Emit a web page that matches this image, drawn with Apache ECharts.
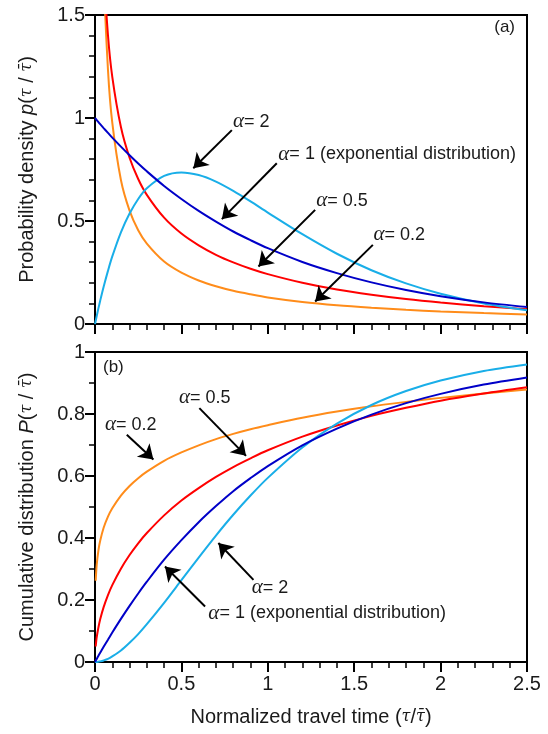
<!DOCTYPE html>
<html>
<head>
<meta charset="utf-8">
<script src="https://cdn.jsdelivr.net/npm/echarts@6/dist/echarts.min.js"></script>
<style>
  html, body { margin: 0; padding: 0; background: #fff; }
  #chart { width: 548px; height: 734px; }
</style>
</head>
<body>
<div id="chart"></div>
<script>
// normalized travel time samples
var xPdf = [0, 0.01, 0.02, 0.03, 0.05, 0.075, 0.1, 0.15, 0.2, 0.25, 0.3, 0.4, 0.5, 0.6, 0.7, 0.8, 0.9, 1.0, 1.2, 1.4, 1.6, 1.8, 2.0, 2.25, 2.5];
var xCdf = [0, 0.004, 0.01, 0.02, 0.03, 0.05, 0.075, 0.1, 0.15, 0.2, 0.25, 0.3, 0.4, 0.5, 0.6, 0.7, 0.8, 0.9, 1.0, 1.2, 1.4, 1.6, 1.8, 2.0, 2.25, 2.5];

// (a) probability density
var pdf02 = [null, 6.273, 3.596, 2.594, 1.717, 1.235, 0.977, 0.699, 0.550, 0.455, 0.390, 0.303, 0.249, 0.211, 0.183, 0.161, 0.144, 0.129, 0.107, 0.091, 0.079, 0.069, 0.061, 0.053, 0.046];
var pdf05 = [null, 3.970, 2.793, 2.269, 1.740, 1.403, 1.200, 0.956, 0.807, 0.704, 0.627, 0.516, 0.439, 0.382, 0.336, 0.299, 0.268, 0.242, 0.200, 0.167, 0.142, 0.121, 0.104, 0.086, 0.072];
var pdf1 = [1, 0.990, 0.980, 0.970, 0.951, 0.928, 0.905, 0.861, 0.819, 0.779, 0.741, 0.670, 0.607, 0.549, 0.497, 0.449, 0.407, 0.368, 0.301, 0.247, 0.202, 0.165, 0.135, 0.105, 0.082];
var pdf2 = [0, 0.039, 0.077, 0.113, 0.181, 0.258, 0.328, 0.445, 0.536, 0.607, 0.659, 0.719, 0.736, 0.723, 0.691, 0.646, 0.595, 0.541, 0.436, 0.341, 0.261, 0.197, 0.147, 0.100, 0.067];

// (b) cumulative distribution
var cdf02 = [null, 0.262, 0.314, 0.361, 0.391, 0.433, 0.469, 0.496, 0.537, 0.568, 0.593, 0.614, 0.649, 0.676, 0.699, 0.719, 0.736, 0.751, 0.764, 0.788, 0.808, 0.825, 0.839, 0.852, 0.866, 0.879];
var cdf05 = [null, 0.050, 0.080, 0.112, 0.138, 0.177, 0.216, 0.248, 0.301, 0.345, 0.383, 0.416, 0.473, 0.521, 0.561, 0.597, 0.629, 0.657, 0.683, 0.727, 0.763, 0.794, 0.820, 0.843, 0.866, 0.886];
var cdf1 = [0, 0.004, 0.010, 0.020, 0.030, 0.049, 0.072, 0.095, 0.139, 0.181, 0.221, 0.259, 0.330, 0.393, 0.451, 0.503, 0.551, 0.593, 0.632, 0.699, 0.753, 0.798, 0.835, 0.865, 0.895, 0.918];
var cdf2 = [0, 0.000, 0.000, 0.001, 0.002, 0.005, 0.010, 0.018, 0.037, 0.062, 0.090, 0.122, 0.191, 0.264, 0.337, 0.408, 0.475, 0.537, 0.594, 0.692, 0.769, 0.829, 0.874, 0.908, 0.939, 0.960];

// annotations: [label x, label y, arrow start x, start y, tip x, tip y, text]
var notesA = [
  [0.799, 0.982, 0.792, 0.941, 0.569, 0.756, "{a|α}= 2"],
  [1.061, 0.825, 1.052, 0.780, 0.734, 0.509, "{a|α}= 1 (exponential distribution)"],
  [1.280, 0.599, 1.274, 0.554, 0.946, 0.279, "{a|α}= 0.5"],
  [1.612, 0.433, 1.608, 0.384, 1.274, 0.109, "{a|α}= 0.2"]
];
var notesB = [
  [0.058, 0.765, 0.184, 0.733, 0.338, 0.653, "{a|α}= 0.2"],
  [0.486, 0.852, 0.604, 0.819, 0.874, 0.665, "{a|α}= 0.5"],
  [0.907, 0.239, 0.917, 0.265, 0.714, 0.384, "{a|α}= 2"],
  [0.656, 0.158, 0.637, 0.179, 0.405, 0.308, "{a|α}= 1 (exponential distribution)"]
];

var colors = { a02: "#ff8c1a", a05: "#ff0000", a1: "#0000c8", a2: "#19aee8" };
var ink = "#1a1a1a";
var sans = "Liberation Sans";

function pairs(xs, ys) {
  return xs.map(function (x, i) { return [x, ys[i]]; });
}

var rich = {
  a: { fontFamily: "Liberation Serif", fontStyle: "italic", fontSize: 21, color: ink },
  i: { fontFamily: sans, fontStyle: "italic", fontSize: 20, color: ink },
  g: { fontFamily: "DejaVu Serif", fontStyle: "italic", fontSize: 16, color: ink }
};

function curve(name, xs, ys, color, idx) {
  return {
    name: name,
    type: "line",
    xAxisIndex: idx,
    yAxisIndex: idx,
    data: pairs(xs, ys),
    showSymbol: false,
    smooth: 0.3,
    clip: true,
    lineStyle: { color: color, width: 2 },
    z: 3
  };
}

function notes(list, idx) {
  return {
    type: "scatter",
    xAxisIndex: idx,
    yAxisIndex: idx,
    symbolSize: 0,
    silent: true,
    itemStyle: { opacity: 1 },
    data: list.map(function (n) { return { value: [n[0], n[1]], name: n[6] }; }),
    label: {
      show: true,
      position: "right",
      distance: 0,
      opacity: 1,
      formatter: function (p) { return p.name; },
      fontFamily: sans,
      fontSize: 18,
      color: ink,
      rich: rich
    },
    markLine: {
      silent: true,
      symbol: ["none", "arrow"],
      symbolSize: 14,
      label: { show: false },
      lineStyle: { color: "#000", width: 2, type: "solid", opacity: 1 },
      emphasis: { disabled: true },
      data: list.map(function (n) {
        return [{ coord: [n[2], n[3]] }, { coord: [n[4], n[5]] }];
      })
    },
    z: 5
  };
}

function xAx(idx, labels) {
  return {
    gridIndex: idx,
    type: "value",
    min: 0,
    max: 2.5,
    interval: 0.5,
    name: labels ? "Normalized travel time ({g|τ}/{g|τ̄})" : "",
    nameLocation: "middle",
    nameGap: 45,
    nameTextStyle: { fontFamily: sans, fontSize: 20, color: ink, rich: rich },
    axisLine: { lineStyle: { color: "#000", width: 2 } },
    axisTick: { length: 10, lineStyle: { color: "#000", width: 2 } },
    minorTick: { show: true, splitNumber: 5, length: 6, lineStyle: { color: "#000", width: 1.5 } },
    splitLine: { show: false },
    axisLabel: { show: labels, fontFamily: sans, fontSize: 20, color: ink, margin: 12 }
  };
}

function yAx(idx, max, step, minor, title) {
  return {
    gridIndex: idx,
    type: "value",
    min: 0,
    max: max,
    interval: step,
    name: title,
    nameLocation: "middle",
    nameGap: 58,
    nameTextStyle: { fontFamily: sans, fontSize: 20, color: ink, rich: rich },
    axisLine: { lineStyle: { color: "#000", width: 2 } },
    axisTick: { length: 10, lineStyle: { color: "#000", width: 2 } },
    minorTick: { show: true, splitNumber: minor, length: 6, lineStyle: { color: "#000", width: 1.5 } },
    splitLine: { show: false },
    axisLabel: { fontFamily: sans, fontSize: 20, color: ink, margin: 10 }
  };
}

var chart = echarts.init(document.getElementById("chart"), null, { renderer: "canvas" });

var option = {
  animation: false,
  backgroundColor: "#fff",
  grid: [
    { left: 95, top: 15, width: 432, height: 309, show: true, borderColor: "#000", borderWidth: 2, backgroundColor: "transparent" },
    { left: 95, top: 352, width: 432, height: 310, show: true, borderColor: "#000", borderWidth: 2, backgroundColor: "transparent" }
  ],
  xAxis: [xAx(0, false), xAx(1, true)],
  yAxis: [
    yAx(0, 1.5, 0.5, 5, "Probability density {i|p}({g|τ} / {g|τ̄})"),
    yAx(1, 1, 0.2, 2, "Cumulative distribution {i|P}({g|τ} / {g|τ̄})")
  ],
  graphic: [
    { type: "text", x: 515, y: 27, style: { text: "(a)", fontFamily: sans, fontSize: 17, fill: ink, align: "right", verticalAlign: "middle" } },
    { type: "text", x: 103, y: 367, style: { text: "(b)", fontFamily: sans, fontSize: 17, fill: ink, align: "left", verticalAlign: "middle" } }
  ],
  series: [
    curve("α = 0.2", xPdf, pdf02, colors.a02, 0),
    curve("α = 0.5", xPdf, pdf05, colors.a05, 0),
    curve("α = 2", xPdf, pdf2, colors.a2, 0),
    curve("α = 1", xPdf, pdf1, colors.a1, 0),
    curve("α = 0.2", xCdf, cdf02, colors.a02, 1),
    curve("α = 0.5", xCdf, cdf05, colors.a05, 1),
    curve("α = 2", xCdf, cdf2, colors.a2, 1),
    curve("α = 1", xCdf, cdf1, colors.a1, 1),
    notes(notesA, 0),
    notes(notesB, 1)
  ]
};

chart.setOption(option);
window.addEventListener("resize", function () {
  chart.resize();
});
</script>
</body>
</html>
